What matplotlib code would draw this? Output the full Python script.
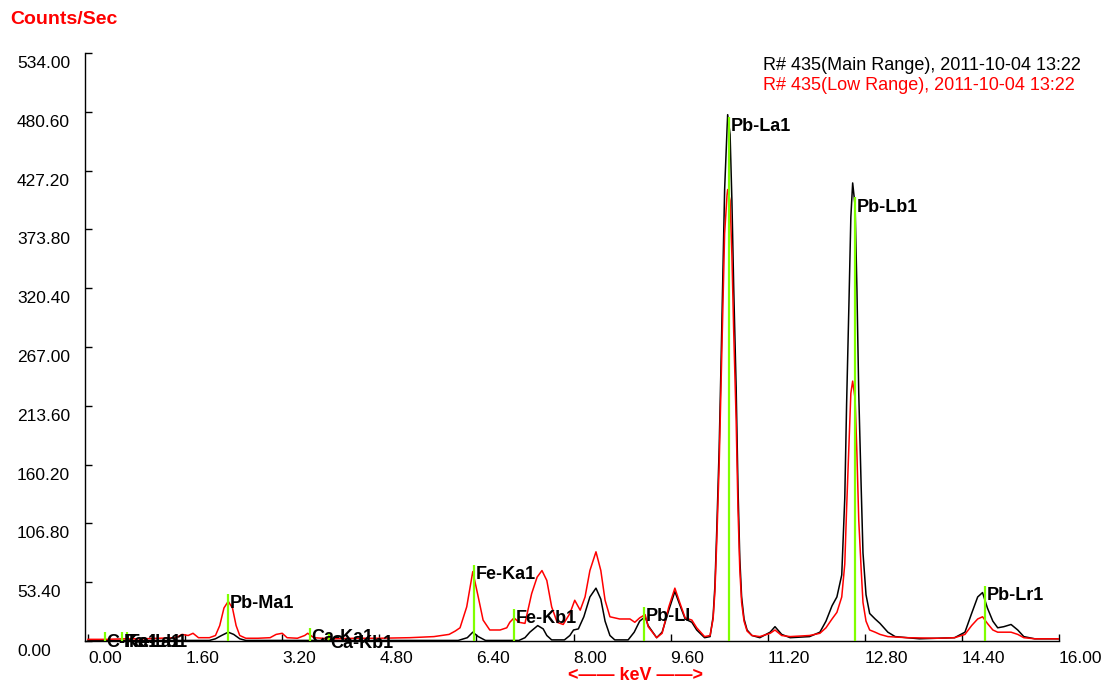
import matplotlib
matplotlib.use("Agg")
import matplotlib.pyplot as plt
from matplotlib.transforms import ScaledTranslation

plt.rcParams['font.family'] = ['Liberation Sans', 'DejaVu Sans']

# ---------------- data ----------------
red_kev = [0.00, 0.30, 0.60, 0.90, 1.20, 1.45, 1.55, 1.65, 1.73, 1.82, 2.00, 2.10, 2.17, 2.24, 2.31,
           2.38, 2.44, 2.50, 2.60, 2.80, 3.00, 3.10, 3.20, 3.28, 3.45, 3.57, 3.62, 3.72, 4.00, 4.40,
           4.80, 5.30, 5.70, 5.95, 6.05, 6.13, 6.24, 6.34, 6.43, 6.51, 6.62, 6.79, 6.90, 6.95, 7.02,
           7.10, 7.20, 7.31, 7.40, 7.48, 7.56, 7.64, 7.73, 7.83, 7.94, 8.02, 8.11, 8.19, 8.27, 8.37,
           8.45, 8.52, 8.60, 8.76, 8.93, 9.01, 9.09, 9.18, 9.23, 9.37, 9.46, 9.57, 9.67, 9.75, 9.84,
           9.95, 10.03, 10.16, 10.25, 10.30, 10.33, 10.36, 10.40, 10.43, 10.46, 10.49, 10.53, 10.54,
           10.58, 10.61, 10.64, 10.68, 10.71, 10.74, 10.77, 10.81, 10.86, 10.94, 11.07, 11.24, 11.32,
           11.43, 11.57, 11.89, 12.06, 12.16, 12.26, 12.34, 12.42, 12.47, 12.50, 12.54, 12.57, 12.60,
           12.64, 12.67, 12.70, 12.74, 12.77, 12.82, 12.88, 12.97, 13.05, 13.18, 13.50, 14.00, 14.28,
           14.45, 14.56, 14.66, 14.74, 14.82, 14.91, 14.99, 15.09, 15.21, 15.32, 15.42, 15.60, 16.00]
red_cps = [1.5, 1.5, 2, 2, 2.5, 3, 6, 5, 7, 3, 3, 5, 14, 30, 36,
           30, 14, 5, 2.5, 2.5, 3, 6, 7, 3, 2.5, 5, 7, 3, 2, 2.5,
           2.5, 3, 4, 6, 9, 12, 31, 63, 40, 19, 10, 10, 12, 17, 21,
           17, 16, 43, 58, 64, 55, 31, 17, 15, 25, 37, 28, 40, 64, 81,
           64, 37, 22, 20, 20, 17, 21, 24, 13, 3, 7, 31, 48, 35, 21,
           19, 12, 4, 5, 20, 45, 90, 160, 230, 300, 370, 405, 410,
           400, 350, 280, 200, 120, 65, 35, 18, 9, 5, 4, 7, 10,
           5, 4, 5, 7, 12, 20, 26, 40, 70, 120, 180, 225, 236,
           220, 170, 110, 65, 35, 18, 10, 8, 6, 4, 3, 2.5, 3,
           6, 14, 20, 22, 16, 10, 8, 8, 8, 6, 3, 2, 2]

black_kev = [0.00, 1.00, 2.00, 2.10, 2.20, 2.31, 2.40, 2.50, 2.60, 6.10, 6.25, 6.34, 6.43, 6.55, 7.10,
             7.20, 7.28, 7.41, 7.50, 7.56, 7.64, 7.85, 7.94, 8.00, 8.08, 8.17, 8.27, 8.37, 8.45, 8.52,
             8.60, 8.68, 8.90, 9.00, 9.09, 9.18, 9.23, 9.37, 9.46, 9.57, 9.67, 9.75, 9.84, 9.95, 10.03,
             10.16, 10.25, 10.30, 10.33, 10.36, 10.40, 10.43, 10.46, 10.49, 10.53, 10.54, 10.58, 10.61,
             10.64, 10.68, 10.71, 10.74, 10.77, 10.81, 10.86, 10.94, 11.07, 11.24, 11.32, 11.43, 11.57,
             11.89, 12.06, 12.16, 12.26, 12.34, 12.42, 12.47, 12.50, 12.54, 12.57, 12.60, 12.64, 12.67,
             12.70, 12.74, 12.77, 12.82, 12.88, 12.97, 13.05, 13.18, 13.30, 13.70, 14.28, 14.45, 14.56,
             14.66, 14.74, 14.82, 14.91, 14.99, 15.09, 15.21, 15.32, 15.42, 15.60, 16.00]
black_cps = [0.5, 0.5, 0.5, 2, 5, 8, 6, 2, 0.5, 0.5, 3, 8, 4, 0.5, 0.5,
             3, 8, 14, 11, 5, 1, 1, 5, 10, 11, 22, 40, 48, 38, 18,
             5, 1, 1, 8, 18, 22, 14, 3, 8, 28, 45, 33, 20, 17, 10,
             3, 4, 22, 50, 100, 175, 250, 330, 410, 465, 478, 460, 400,
             320, 230, 140, 75, 40, 20, 10, 5, 3, 8, 13, 6, 3,
             4, 8, 18, 32, 40, 60, 130, 215, 310, 385, 416, 395, 320,
             225, 140, 80, 42, 25, 20, 16, 8, 4, 2, 3, 8, 25,
             40, 44, 30, 18, 12, 13, 15, 10, 4, 2, 2]

line_names = ["C-Ka1", "Fe-La1", "Fe-Lb1", "Pb-Ma1", "Ca-Ka1", "Ca-Kb1", "Fe-Ka1",
              "Fe-Kb1", "Pb-Ll", "Pb-La1", "Pb-Lb1", "Pb-Lr1"]
line_kev = [0.28, 0.56, 0.64, 2.31, 3.66, 3.97, 6.36, 7.02, 9.16, 10.56, 12.64, 14.78]
line_top = [8, 8, 8, 43, 12, 7, 69, 29, 31, 476, 403, 50]

xticks = [0.0, 1.6, 3.2, 4.8, 6.4, 8.0, 9.6, 11.2, 12.8, 14.4, 16.0]
yticks = [0.0, 53.4, 106.8, 160.2, 213.6, 267.0, 320.4, 373.8, 427.2, 480.6, 534.0]

legend_main = "R# 435(Main Range), 2011-10-04 13:22"
legend_low = "R# 435(Low Range), 2011-10-04 13:22"

# ---------------- figure ----------------
W, H = 1110, 686
fig = plt.figure(figsize=(W / 100, H / 100), dpi=100)
ax = fig.add_axes([85 / W, 45 / H, 974 / W, 588 / H])

ax.plot(black_kev, black_cps, color='black', lw=1.1, zorder=2)
ax.plot(red_kev, red_cps, color='#ff0000', lw=1.1, zorder=3)

for name, e, top in zip(line_names, line_kev, line_top):
    ax.plot([e, e], [0, top], color='#80ff00', lw=1.6, zorder=4, solid_capstyle='butt')
    ax.annotate(name, xy=(e, top), xytext=(1, -1), textcoords='offset points',
                ha='left', va='top', fontsize=13, fontweight='bold', color='black',
                zorder=5, annotation_clip=False)

ax.set_xlim(-0.05, 16.0)
ax.set_ylim(0, 534)

for s in ['top', 'right']:
    ax.spines[s].set_visible(False)
for s in ['left', 'bottom']:
    ax.spines[s].set_color('black')
    ax.spines[s].set_linewidth(1.0)

ax.tick_params(axis='x', direction='in', length=5, width=1, pad=7, labelsize=12.5)
ax.tick_params(axis='y', direction='in', length=5, width=1, pad=49, labelsize=12.5)
ax.set_xticks(xticks, ["%.2f" % v for v in xticks], ha='left')
ax.set_yticks(yticks, ["%.2f" % v for v in yticks], ha='left', va='top')
shift = ScaledTranslation(0, -3 / 100, fig.dpi_scale_trans)
for lab in ax.get_yticklabels():
    lab.set_transform(lab.get_transform() + shift)

fig.text(10 / W, 1 - 20 / H, "Counts/Sec", color='#ff0000', fontsize=14,
         fontweight='bold', ha='left', va='center')
fig.text(636 / W, 1 - 676 / H, "<—— keV ——>", color='#ff0000', fontsize=13,
         fontweight='bold', ha='center', va='center')
fig.text(763 / W, 1 - 66 / H, legend_main, color='black', fontsize=13,
         ha='left', va='center')
fig.text(763 / W, 1 - 86 / H, legend_low, color='#ff0000', fontsize=13,
         ha='left', va='center')

fig.savefig("out.png", dpi=100, facecolor='white')
